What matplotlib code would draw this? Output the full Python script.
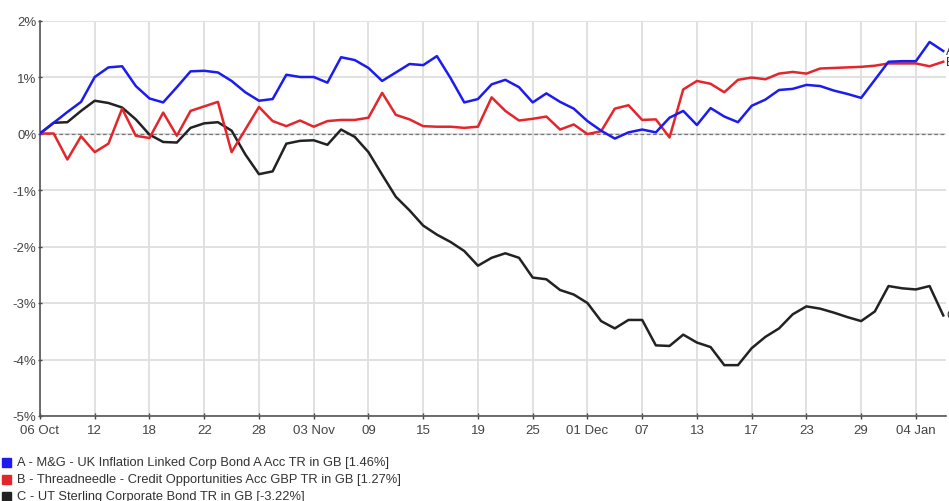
import matplotlib.pyplot as plt
from matplotlib.patches import Rectangle

# tick labels every 4 trading days
tick_labels = ['06 Oct', '12', '18', '22', '28', '03 Nov', '09', '15', '19',
               '25', '01 Dec', '07', '13', '17', '23', '29', '04 Jan']

# cumulative total return, %
fund_a = [0.0, 0.19, 0.38, 0.56, 1.0, 1.17, 1.19, 0.84, 0.62, 0.55,
          0.82, 1.1, 1.11, 1.08, 0.93, 0.73, 0.58, 0.61, 1.04, 1.0,
          1.0, 0.9, 1.35, 1.3, 1.16, 0.93, 1.08, 1.23, 1.21, 1.37,
          0.98, 0.55, 0.61, 0.87, 0.95, 0.82, 0.55, 0.71, 0.56, 0.44,
          0.22, 0.05, -0.09, 0.02, 0.07, 0.02, 0.28, 0.4, 0.15, 0.45,
          0.3, 0.2, 0.49, 0.6, 0.77, 0.79, 0.86, 0.84, 0.76, 0.7,
          0.63, 0.95, 1.27, 1.28, 1.28, 1.62, 1.46]
fund_b = [0.0, 0.0, -0.46, -0.05, -0.33, -0.18, 0.44, -0.04, -0.08, 0.37,
          -0.04, 0.4, 0.48, 0.56, -0.33, 0.07, 0.47, 0.22, 0.13, 0.23,
          0.12, 0.22, 0.24, 0.24, 0.28, 0.72, 0.33, 0.25, 0.13, 0.12,
          0.12, 0.1, 0.12, 0.64, 0.4, 0.23, 0.26, 0.3, 0.07, 0.16,
          -0.01, 0.04, 0.44, 0.5, 0.24, 0.25, -0.07, 0.78, 0.93, 0.88,
          0.73, 0.95, 0.99, 0.96, 1.06, 1.09, 1.06, 1.15, 1.16, 1.17,
          1.18, 1.2, 1.24, 1.24, 1.24, 1.19, 1.27]
fund_c = [0.0, 0.19, 0.2, 0.4, 0.58, 0.54, 0.46, 0.25, -0.02, -0.15,
          -0.16, 0.1, 0.18, 0.2, 0.05, -0.37, -0.72, -0.67, -0.18, -0.13,
          -0.12, -0.2, 0.07, -0.06, -0.33, -0.73, -1.12, -1.36, -1.63, -1.79,
          -1.92, -2.08, -2.34, -2.2, -2.12, -2.2, -2.55, -2.58, -2.77, -2.85,
          -3.0, -3.32, -3.45, -3.3, -3.3, -3.75, -3.76, -3.56, -3.7, -3.78,
          -4.1, -4.1, -3.8, -3.6, -3.45, -3.2, -3.06, -3.1, -3.17, -3.25,
          -3.32, -3.15, -2.7, -2.74, -2.76, -2.7, -3.22]

names = ['A - M&G - UK Inflation Linked Corp Bond A Acc TR in GB [1.46%]',
         'B - Threadneedle - Credit Opportunities Acc GBP TR in GB [1.27%]',
         'C - UT Sterling Corporate Bond TR in GB [-3.22%]']
colors = ['#1c1cf0', '#e3262b', '#222222']

plt.rcParams['font.family'] = 'Liberation Sans'

W, H = 949, 502
fig = plt.figure(figsize=(W / 100, H / 100), dpi=100)
ax = fig.add_axes([40 / W, (H - 417) / H, (946 - 40) / W, (417 - 21.5) / H])

x = list(range(len(fund_a)))
for ys, c in zip([fund_c, fund_b, fund_a], [colors[2], colors[1], colors[0]]):
    ax.plot(x, ys, color=c, lw=1.8, zorder=3)

ax.axhline(0, color='#777777', lw=0.9, ls=(0, (3, 2)), zorder=2)

ax.set_xlim(0, 66.2)
ax.set_ylim(-5, 2)
ax.set_xticks(range(0, 65, 4))
ax.set_xticklabels(tick_labels)
ax.set_yticks(range(-5, 3))
ax.set_yticklabels(['%d%%' % v for v in range(-5, 3)])
ax.grid(True, color='#dedede', lw=1.3, zorder=0)
ax.tick_params(axis='both', labelsize=9.5, colors='#444444', direction='inout',
               length=4, width=1, pad=4)
ax.tick_params(axis='y', length=3, pad=1)
for s in ['top', 'right']:
    ax.spines[s].set_visible(False)
for s in ['left', 'bottom']:
    ax.spines[s].set_color('#555555')
    ax.spines[s].set_linewidth(1.2)

# end labels (clipped by the figure edge, as in the original)
for lbl, ys in zip(['A', 'B', 'C'], [fund_a, fund_b, fund_c]):
    ax.text(66.2, ys[-1], lbl, fontsize=9, color='#333333', va='center',
            ha='left', clip_on=False)

# legend rows below the chart
for i, (name, c) in enumerate(zip(names, colors)):
    yc = 463 + i * 17
    fig.add_artist(Rectangle((2 / W, (H - yc - 4.5) / H), 9 / W, 9 / H,
                             color=c, transform=fig.transFigure))
    fig.text(17 / W, (H - yc) / H, name, fontsize=9.3, color='#333333',
             va='center', ha='left')

fig.savefig('out.png', dpi=100)
